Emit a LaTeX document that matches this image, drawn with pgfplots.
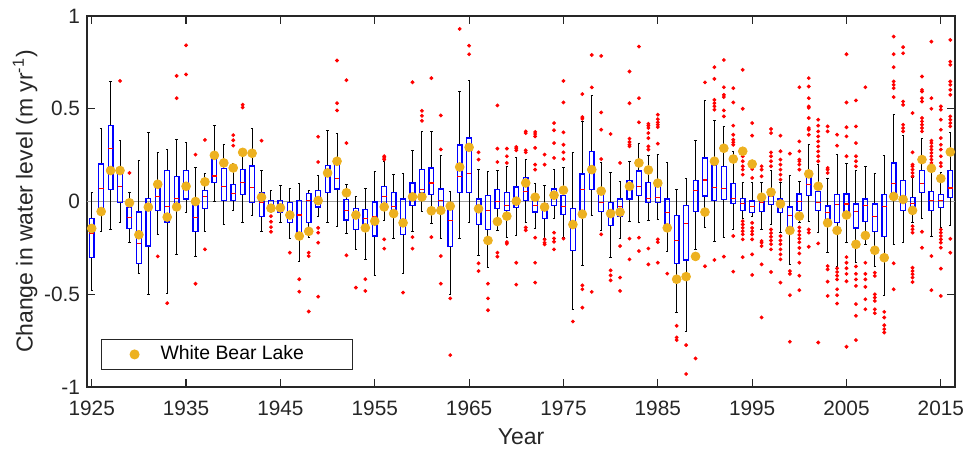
\documentclass[border=0pt]{standalone}
\usepackage{fontspec}
\setmainfont{Liberation Sans}
\usepackage{pgfplots}
\pgfplotsset{compat=1.18}
\usepgfplotslibrary{statistics}
\definecolor{wblorange}{RGB}{237,177,32}
\definecolor{axgray}{RGB}{38,38,38}
\definecolor{zerogray}{RGB}{160,160,160}
\pgfplotsset{
  wbl box/.style={
    forget plot,
    black, line width=0.5pt, mark=none,
    boxplot/draw direction=y,
    boxplot/box extend=0.5,
    boxplot/whisker extend=0.25,
    boxplot/every box/.style={draw=blue, line width=0.65pt},
    boxplot/every whisker/.style={draw=black, line width=0.5pt},
    boxplot/every median/.style={draw=red, line width=0.6pt},
  }
}
% one box per year: position (years after 1925), lower whisker, lower quartile, median, upper quartile, upper whisker
\newcommand{\bx}[6]{\addplot[wbl box, boxplot prepared={draw position=#1, lower whisker=#2, lower quartile=#3, median=#4, upper quartile=#5, upper whisker=#6}] coordinates {};}
\begin{document}
\begin{tikzpicture}
\begin{axis}[
  name=ax, scale only axis, width=434pt, height=185.5pt,
  xmin=-0.5, xmax=91.5, ymin=-1, ymax=1,
  xtick={0,10,...,90},
  xticklabels={1925,1935,1945,1955,1965,1975,1985,1995,2005,2015},
  ytick={-1,-0.5,0,0.5,1},
  tick align=inside, major tick length=4pt,
  axis line style={axgray, line width=0.6pt},
  tick style={axgray, line width=0.6pt},
  /pgf/number format/assume math mode=true,
  tick label style={font=\fontsize{10.4}{12}\selectfont, text=axgray},
  xticklabel style={yshift=-3.5pt},
  xlabel={Year},
  ylabel={Change in water level (m yr\textsuperscript{-1})},
  every axis x label/.style={at={(axis description cs:0.5,0)}, anchor=center, yshift=-25pt, font=\fontsize{11.5}{13}\selectfont, text=axgray},
  every axis y label/.style={at={(axis description cs:-0.0714,0.5)}, rotate=90, anchor=center, font=\fontsize{11.5}{13}\selectfont, text=axgray},
  legend style={at={(axis description cs:0.0161,0.0458)}, anchor=south west, draw=axgray, line width=0.6pt, inner xsep=0pt, inner ysep=0pt, column sep=0pt, font=\fontsize{9.7}{11}\selectfont},
  legend cell align=left,
  legend image code/.code={\path[draw=none, fill=none] (0pt,-7.5pt) rectangle (27.5pt,7.5pt); \draw[#1] plot coordinates {(16.5pt,0pt)};},
]
\addplot[forget plot, zerogray, line width=0.75pt] coordinates {(-0.5,0) (91.5,0)};

% 1925--1934
\bx{0}{-0.482}{-0.300}{-0.174}{-0.093}{0.047}
\bx{1}{-0.160}{-0.043}{0.070}{0.203}{0.392}
\bx{2}{-0.150}{0.065}{0.285}{0.410}{0.647}
\bx{3}{-0.115}{-0.007}{0.079}{0.185}{0.328}
\bx{4}{-0.222}{-0.147}{-0.088}{-0.032}{0.048}
\bx{5}{-0.389}{-0.335}{-0.226}{-0.056}{0.220}
\bx{6}{-0.500}{-0.240}{-0.030}{0.018}{0.371}
\bx{7}{-0.177}{-0.048}{0.025}{0.079}{0.265}
\bx{8}{-0.495}{-0.111}{-0.025}{0.167}{0.280}
\bx{9}{-0.285}{-0.040}{0.016}{0.133}{0.333}
% 1935--1944
\bx{10}{-0.061}{0.014}{0.082}{0.167}{0.319}
\bx{11}{-0.294}{-0.160}{-0.086}{-0.020}{0.181}
\bx{12}{-0.160}{-0.039}{0.027}{0.061}{0.151}
\bx{13}{0.000}{0.104}{0.138}{0.238}{0.409}
\bx{14}{-0.124}{0.005}{0.079}{0.177}{0.310}
\bx{15}{-0.050}{0.005}{0.045}{0.091}{0.204}
\bx{16}{-0.111}{0.038}{0.104}{0.174}{0.283}
\bx{17}{-0.073}{-0.004}{0.075}{0.192}{0.392}
\bx{18}{-0.163}{-0.081}{-0.007}{0.047}{0.167}
\bx{19}{-0.061}{-0.039}{-0.014}{0.007}{0.061}
% 1945--1954
\bx{20}{-0.115}{-0.061}{-0.034}{0.007}{0.086}
\bx{21}{-0.200}{-0.115}{-0.052}{-0.007}{0.070}
\bx{22}{-0.321}{-0.200}{-0.073}{0.007}{0.095}
\bx{23}{-0.195}{-0.115}{0.007}{0.043}{0.059}
\bx{24}{-0.079}{-0.029}{0.005}{0.061}{0.142}
\bx{25}{-0.111}{0.050}{0.136}{0.194}{0.384}
\bx{26}{-0.133}{0.068}{0.122}{0.208}{0.367}
\bx{27}{-0.172}{-0.100}{-0.050}{0.010}{0.090}
\bx{28}{-0.258}{-0.151}{-0.075}{-0.039}{0.029}
\bx{29}{-0.312}{-0.156}{-0.093}{-0.043}{0.068}
% 1955--1964
\bx{30}{-0.401}{-0.186}{-0.079}{-0.002}{0.160}
\bx{31}{-0.102}{-0.016}{0.025}{0.082}{0.215}
\bx{32}{-0.200}{-0.079}{-0.025}{0.047}{0.145}
\bx{33}{-0.387}{-0.177}{-0.097}{0.014}{0.151}
\bx{34}{-0.160}{-0.020}{0.025}{0.100}{0.276}
\bx{35}{-0.052}{0.047}{0.065}{0.172}{0.380}
\bx{36}{-0.120}{0.038}{0.100}{0.181}{0.378}
\bx{37}{-0.201}{-0.043}{0.007}{0.068}{0.249}
\bx{38}{-0.500}{-0.244}{-0.102}{-0.036}{0.054}
\bx{39}{-0.201}{0.050}{0.136}{0.305}{0.595}
% 1965--1974
\bx{40}{-0.111}{0.050}{0.151}{0.342}{0.654}
\bx{41}{-0.290}{-0.124}{-0.039}{0.014}{0.172}
\bx{42}{-0.357}{-0.151}{-0.047}{0.034}{0.160}
\bx{43}{-0.156}{-0.038}{-0.002}{0.063}{0.168}
\bx{44}{-0.192}{-0.050}{-0.020}{0.047}{0.190}
\bx{45}{-0.183}{-0.034}{0.016}{0.079}{0.235}
\bx{46}{-0.115}{0.007}{0.054}{0.131}{0.226}
\bx{47}{-0.143}{-0.056}{-0.022}{0.007}{0.097}
\bx{48}{-0.200}{-0.091}{-0.034}{-0.013}{0.086}
\bx{49}{-0.093}{-0.022}{0.016}{0.068}{0.170}
% 1975--1984
\bx{50}{-0.192}{-0.070}{-0.025}{0.034}{0.183}
\bx{51}{-0.584}{-0.263}{-0.124}{-0.038}{0.265}
\bx{52}{-0.344}{-0.052}{0.063}{0.149}{0.432}
\bx{53}{-0.075}{0.065}{0.172}{0.271}{0.572}
\bx{54}{-0.154}{-0.052}{-0.007}{0.047}{0.211}
\bx{55}{-0.303}{-0.129}{-0.065}{-0.007}{0.154}
\bx{56}{-0.200}{-0.079}{-0.025}{0.014}{0.109}
\bx{57}{-0.106}{0.014}{0.065}{0.115}{0.213}
\bx{58}{-0.115}{0.032}{0.082}{0.165}{0.312}
\bx{59}{-0.100}{-0.007}{0.016}{0.104}{0.249}
% 1985--1994
\bx{60}{-0.097}{-0.004}{0.020}{0.086}{0.256}
\bx{61}{-0.267}{-0.124}{-0.061}{0.014}{0.211}
\bx{62}{-0.599}{-0.335}{-0.210}{-0.075}{0.065}
\bx{63}{-0.703}{-0.315}{-0.120}{-0.022}{0.122}
\bx{64}{-0.260}{-0.052}{0.061}{0.115}{0.328}
\bx{65}{-0.140}{0.029}{0.116}{0.235}{0.545}
\bx{66}{-0.213}{0.007}{0.077}{0.194}{0.435}
\bx{67}{-0.195}{0.011}{0.072}{0.190}{0.405}
\bx{68}{-0.151}{-0.011}{0.018}{0.097}{0.271}
\bx{69}{-0.093}{-0.047}{-0.011}{0.016}{0.100}
% 1995--2004
\bx{70}{-0.082}{-0.061}{-0.029}{0.002}{0.100}
\bx{71}{-0.151}{-0.052}{-0.007}{0.011}{0.100}
\bx{72}{-0.124}{-0.016}{0.025}{0.061}{0.167}
\bx{73}{-0.165}{-0.061}{-0.016}{0.014}{0.100}
\bx{74}{-0.339}{-0.160}{-0.075}{-0.029}{0.140}
\bx{75}{-0.115}{-0.047}{-0.002}{0.041}{0.108}
\bx{76}{-0.109}{0.034}{0.091}{0.133}{0.306}
\bx{77}{-0.168}{-0.047}{-0.004}{0.054}{0.199}
\bx{78}{-0.276}{-0.115}{-0.061}{-0.025}{0.124}
\bx{79}{-0.348}{-0.115}{-0.016}{0.036}{0.254}
% 2005--2016
\bx{80}{-0.222}{-0.066}{-0.013}{0.041}{0.203}
\bx{81}{-0.330}{-0.142}{-0.056}{-0.013}{0.167}
\bx{82}{-0.231}{-0.106}{-0.022}{0.014}{0.190}
\bx{83}{-0.348}{-0.160}{-0.082}{-0.013}{0.149}
\bx{84}{-0.505}{-0.190}{-0.025}{0.036}{0.249}
\bx{85}{-0.231}{0.043}{0.097}{0.208}{0.471}
\bx{86}{-0.219}{-0.048}{-0.002}{0.115}{0.355}
\bx{87}{-0.115}{-0.038}{-0.011}{0.023}{0.127}
\bx{88}{-0.093}{0.047}{0.097}{0.168}{0.342}
\bx{89}{-0.186}{-0.047}{0.007}{0.054}{0.177}
\bx{90}{-0.140}{-0.034}{0.007}{0.036}{0.154}
\bx{91}{-0.129}{0.020}{0.073}{0.167}{0.373}

% outliers of the yearly distributions: year, value
\addplot[forget plot, only marks, mark=*, mark size=0.75pt, draw=red, fill=red]
  table[row sep=\\, x expr={\thisrowno{0}-1925}, y index=1, header=false] {
1928 0.65\\ 1929 0.154\\ 1932 -0.296\\ 1933 -0.548\\ 1934 0.677\\ 1934 0.557\\
1935 0.842\\ 1935 0.685\\ 1936 0.253\\ 1936 -0.443\\ 1937 0.332\\ 1937 -0.258\\
1940 0.358\\ 1940 0.330\\ 1940 0.301\\ 1941 0.522\\ 1941 0.507\\ 1943 0.328\\
1944 -0.079\\ 1944 -0.109\\ 1944 -0.138\\ 1944 -0.163\\ 1946 -0.276\\ 1947 -0.419\\ 1947 -0.486\\
1948 -0.276\\ 1948 -0.294\\ 1948 -0.593\\
1949 0.349\\ 1949 0.213\\ 1949 -0.142\\ 1949 -0.168\\ 1949 -0.222\\ 1949 -0.513\\
1951 0.76\\ 1951 0.53\\ 1951 0.491\\ 1952 0.654\\ 1952 0.315\\ 1952 -0.29\\
1953 -0.464\\ 1954 -0.419\\ 1954 -0.482\\
1956 0.244\\ 1956 0.235\\ 1956 0.226\\ 1956 -0.204\\ 1956 -0.254\\ 1958 -0.491\\
1959 0.643\\ 1959 -0.192\\ 1959 -0.254\\ 1960 0.489\\ 1960 0.462\\ 1960 0.435\\
1961 0.665\\ 1961 -0.192\\ 1962 0.464\\ 1962 0.281\\ 1962 -0.294\\ 1962 -0.443\\
1963 -0.522\\ 1963 -0.828\\ 1964 0.93\\ 1965 0.84\\ 1965 0.794\\
1966 0.265\\ 1966 0.226\\ 1966 -0.333\\ 1966 -0.375\\ 1967 -0.443\\ 1967 -0.522\\ 1967 -0.586\\
1968 0.518\\ 1968 0.285\\ 1968 0.213\\ 1968 -0.276\\ 1968 -0.297\\
1969 0.285\\ 1969 0.244\\ 1969 0.208\\ 1969 -0.219\\ 1969 -0.228\\
1970 0.294\\ 1970 0.285\\ 1970 0.276\\ 1970 -0.33\\ 1970 -0.448\\
1971 0.378\\ 1971 0.369\\ 1971 0.276\\ 1971 0.265\\ 1971 -0.14\\ 1971 -0.155\\
1972 0.375\\ 1972 0.364\\ 1972 0.351\\ 1972 0.289\\ 1972 0.199\\ 1972 0.172\\ 1972 -0.195\\ 1972 -0.33\\ 1972 -0.437\\
1973 0.253\\ 1973 0.199\\ 1973 -0.204\\ 1973 -0.222\\ 1973 -0.231\\
1974 0.423\\ 1974 0.384\\ 1974 0.315\\ 1974 0.235\\ 1974 -0.168\\ 1974 -0.199\\ 1974 -0.217\\ 1974 -0.258\\
1975 0.65\\ 1975 0.534\\ 1975 0.373\\ 1975 0.306\\ 1975 0.265\\ 1975 0.229\\ 1975 -0.2\\
1976 -0.647\\ 1977 0.579\\ 1977 0.455\\ 1977 0.446\\ 1977 -0.452\\ 1977 -0.473\\ 1977 -0.572\\
1978 0.79\\ 1978 0.615\\ 1978 -0.487\\
1979 0.785\\ 1979 0.48\\ 1979 0.387\\ 1979 0.229\\ 1979 -0.177\\
1980 0.364\\ 1980 -0.371\\ 1980 -0.398\\ 1980 -0.425\\
1981 0.208\\ 1981 -0.24\\ 1981 -0.41\\ 1981 -0.482\\
1982 0.701\\ 1982 0.53\\ 1982 0.339\\ 1982 0.321\\ 1982 0.306\\ 1982 0.297\\ 1982 -0.2\\ 1982 -0.312\\
1983 0.835\\ 1983 0.557\\ 1983 0.427\\ 1983 -0.195\\ 1983 -0.267\\
1984 0.419\\ 1984 0.409\\ 1984 0.396\\ 1984 0.369\\ 1984 0.342\\ 1984 0.297\\ 1984 0.28\\ 1984 -0.253\\ 1984 -0.339\\
1985 0.468\\ 1985 0.444\\ 1985 0.427\\ 1985 0.414\\ 1985 0.401\\ 1985 0.312\\ 1985 -0.204\\ 1985 -0.219\\ 1985 -0.33\\
1986 -0.389\\ 1987 -0.67\\ 1987 -0.733\\ 1987 -0.747\\ 1988 -0.774\\ 1988 -0.93\\ 1989 -0.846\\
1990 0.642\\ 1990 -0.349\\
1991 0.724\\ 1991 0.661\\ 1991 0.548\\ 1991 0.53\\ 1991 0.513\\ 1991 0.495\\ 1991 -0.315\\
1992 0.763\\ 1992 0.616\\ 1992 0.575\\ 1992 0.563\\ 1992 0.491\\ 1992 0.459\\ 1992 -0.297\\
1993 0.611\\ 1993 0.534\\ 1993 0.409\\ 1993 0.36\\ 1993 0.333\\ 1993 0.319\\ 1993 0.306\\ 1993 -0.186\\ 1993 -0.378\\
1994 0.71\\ 1994 0.5\\ 1994 0.276\\ 1994 0.244\\ 1994 0.217\\ 1994 0.19\\ 1994 0.172\\ 1994 0.145\\
1994 -0.106\\ 1994 -0.124\\ 1994 -0.142\\ 1994 -0.16\\ 1994 -0.177\\ 1994 -0.204\\ 1994 -0.3\\
1995 0.423\\ 1995 0.355\\ 1995 0.202\\ 1995 0.175\\ 1995 0.127\\ 1995 -0.115\\ 1995 -0.142\\ 1995 -0.16\\
1995 -0.177\\ 1995 -0.204\\ 1995 -0.285\\ 1995 -0.396\\
1996 0.19\\ 1996 0.172\\ 1996 0.136\\ 1996 -0.213\\ 1996 -0.222\\ 1996 -0.24\\ 1996 -0.339\\ 1996 -0.625\\
1997 0.391\\ 1997 0.369\\ 1997 0.265\\ 1997 0.244\\ 1997 0.217\\ 1997 0.19\\ 1997 -0.151\\ 1997 -0.17\\
1997 -0.19\\ 1997 -0.21\\ 1997 -0.23\\ 1997 -0.258\\ 1997 -0.38\\
1998 0.355\\ 1998 0.271\\ 1998 0.226\\ 1998 0.199\\ 1998 0.172\\ 1998 0.145\\ 1998 0.118\\ 1998 -0.186\\
1998 -0.21\\ 1998 -0.23\\ 1998 -0.258\\ 1998 -0.285\\ 1998 -0.312\\ 1998 -0.437\\
1999 0.258\\ 1999 -0.375\\ 1999 -0.39\\ 1999 -0.505\\ 1999 -0.756\\
2000 0.616\\ 2000 0.324\\ 2000 0.271\\ 2000 0.226\\ 2000 0.217\\ 2000 0.199\\ 2000 0.172\\ 2000 -0.14\\
2000 -0.16\\ 2000 -0.18\\ 2000 -0.2\\ 2000 -0.22\\ 2000 -0.25\\ 2000 -0.28\\ 2000 -0.33\\ 2000 -0.4\\ 2000 -0.478\\
2001 0.665\\ 2001 0.62\\ 2001 0.557\\ 2001 0.513\\ 2001 0.505\\ 2001 0.45\\ 2001 0.396\\ 2001 0.387\\
2001 0.36\\ 2001 -0.151\\ 2001 -0.168\\ 2001 -0.244\\
2002 0.441\\ 2002 0.409\\ 2002 0.378\\ 2002 0.351\\ 2002 0.324\\ 2002 0.297\\ 2002 0.27\\ 2002 0.244\\
2002 0.217\\ 2002 -0.226\\ 2002 -0.76\\
2003 0.405\\ 2003 0.378\\ 2003 0.181\\ 2003 0.172\\ 2003 0.154\\ 2003 -0.348\\ 2003 -0.366\\ 2003 -0.432\\ 2003 -0.509\\
2004 0.36\\ 2004 0.301\\ 2004 -0.36\\ 2004 -0.38\\ 2004 -0.4\\ 2004 -0.42\\ 2004 -0.473\\ 2004 -0.505\\ 2004 -0.55\\
2005 0.794\\ 2005 0.534\\ 2005 0.4\\ 2005 0.351\\ 2005 0.244\\ 2005 -0.3\\ 2005 -0.33\\ 2005 -0.36\\
2005 -0.39\\ 2005 -0.43\\ 2005 -0.783\\
2006 0.545\\ 2006 0.405\\ 2006 0.315\\ 2006 0.244\\ 2006 0.217\\ 2006 0.19\\ 2006 -0.35\\ 2006 -0.39\\
2006 -0.42\\ 2006 -0.455\\ 2006 -0.553\\ 2006 -0.616\\ 2006 -0.747\\
2007 0.616\\ 2007 -0.33\\ 2007 -0.39\\ 2007 -0.42\\ 2007 -0.46\\ 2007 -0.527\\ 2007 -0.581\\
2008 -0.384\\ 2008 -0.401\\ 2008 -0.5\\ 2008 -0.518\\ 2008 -0.536\\ 2008 -0.581\\ 2008 -0.602\\
2009 -0.595\\ 2009 -0.625\\ 2009 -0.667\\ 2009 -0.688\\ 2009 -0.706\\
2010 0.889\\ 2010 0.794\\ 2010 0.724\\ 2010 0.647\\ 2010 0.629\\ 2010 0.611\\ 2010 0.563\\ 2010 -0.333\\ 2010 -0.473\\
2011 0.832\\ 2011 0.799\\ 2011 0.539\\ 2011 0.521\\ 2011 0.414\\ 2011 0.396\\ 2011 0.378\\
2012 0.477\\ 2012 0.265\\ 2012 0.199\\ 2012 0.19\\ 2012 0.172\\ 2012 0.154\\ 2012 0.136\\ 2012 -0.133\\
2012 -0.15\\ 2012 -0.168\\ 2012 -0.357\\ 2012 -0.375\\ 2012 -0.392\\ 2012 -0.41\\ 2012 -0.434\\
2013 0.674\\ 2013 0.602\\ 2013 0.593\\ 2013 0.557\\ 2013 0.539\\ 2013 0.45\\ 2013 0.432\\ 2013 0.414\\
2013 0.396\\ 2013 0.378\\ 2013 -0.163\\ 2013 -0.249\\
2014 0.862\\ 2014 0.557\\ 2014 0.5\\ 2014 0.328\\ 2014 0.315\\ 2014 0.297\\ 2014 0.28\\ 2014 0.262\\
2014 0.244\\ 2014 0.226\\ 2014 0.208\\ 2014 -0.294\\ 2014 -0.478\\
2015 0.513\\ 2015 0.495\\ 2015 0.441\\ 2015 0.387\\ 2015 0.342\\ 2015 0.306\\ 2015 0.28\\ 2015 0.244\\
2015 0.208\\ 2015 0.19\\ 2015 -0.151\\ 2015 -0.168\\ 2015 -0.186\\ 2015 -0.204\\ 2015 -0.222\\ 2015 -0.249\\
2015 -0.362\\ 2015 -0.509\\
2016 0.871\\ 2016 0.754\\ 2016 0.737\\ 2016 0.647\\ 2016 0.629\\ 2016 0.602\\ 2016 0.575\\ 2016 0.459\\
2016 0.441\\ 2016 0.423\\ 2016 0.405\\ 2016 -0.201\\ 2016 -0.276\\
};

% annual change of White Bear Lake: year, value
\addplot[only marks, mark=*, mark size=2.2pt, color=wblorange]
  table[row sep=\\, x expr={\thisrowno{0}-1925}, y index=1, header=false] {
1925 -0.145\\ 1926 -0.054\\ 1927 0.167\\ 1928 0.167\\ 1929 -0.007\\
1930 -0.179\\ 1931 -0.030\\ 1932 0.093\\ 1933 -0.084\\ 1934 -0.029\\
1935 0.082\\ 1936 0.000\\ 1937 0.106\\ 1938 0.249\\ 1939 0.208\\
1940 0.181\\ 1941 0.265\\ 1942 0.260\\ 1943 0.023\\ 1944 -0.036\\
1945 -0.034\\ 1946 -0.073\\ 1947 -0.186\\ 1948 -0.161\\ 1949 0.005\\
1950 0.154\\ 1951 0.217\\ 1952 0.047\\ 1953 -0.073\\ 1954 -0.142\\
1955 -0.106\\ 1956 -0.029\\ 1957 -0.065\\ 1958 -0.115\\ 1959 0.025\\
1960 0.025\\ 1961 -0.050\\ 1962 -0.048\\ 1963 -0.025\\ 1964 0.186\\
1965 0.292\\ 1966 -0.039\\ 1967 -0.210\\ 1968 -0.108\\ 1969 -0.079\\
1970 0.002\\ 1971 0.100\\ 1972 0.023\\ 1973 -0.030\\ 1974 0.034\\
1975 0.061\\ 1976 -0.124\\ 1977 -0.068\\ 1978 0.172\\ 1979 0.056\\
1980 -0.065\\ 1981 -0.057\\ 1982 0.082\\ 1983 0.208\\ 1984 0.170\\
1985 0.099\\ 1986 -0.142\\ 1987 -0.419\\ 1988 -0.405\\ 1989 -0.296\\
1990 -0.057\\ 1991 0.217\\ 1992 0.287\\ 1993 0.229\\ 1994 0.271\\
1995 0.202\\ 1996 0.023\\ 1997 0.050\\ 1998 -0.013\\ 1999 -0.156\\
2000 -0.079\\ 2001 0.149\\ 2002 0.082\\ 2003 -0.115\\ 2004 -0.156\\
2005 -0.073\\ 2006 -0.231\\ 2007 -0.183\\ 2008 -0.263\\ 2009 -0.303\\
2010 0.027\\ 2011 0.011\\ 2012 -0.048\\ 2013 0.226\\ 2014 0.179\\
2015 0.124\\ 2016 0.267\\
};
\addlegendentry{\makebox[94pt][l]{White Bear Lake}}
\end{axis}
\pgfresetboundingbox
\path[use as bounding box] ([shift={(-43.5pt,-32pt)}]ax.south west) rectangle ([shift={(4pt,8pt)}]ax.north east);
\end{tikzpicture}
\end{document}
